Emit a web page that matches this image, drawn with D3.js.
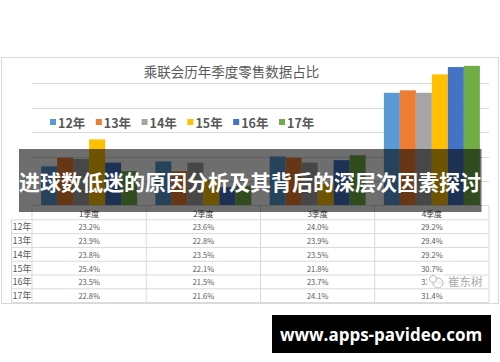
<!DOCTYPE html>
<html>
<head>
<meta charset="utf-8">
<script src="https://cdn.jsdelivr.net/npm/d3@7"></script>
<style>
  body { margin: 0; background: #fff; }
  svg { display: block; font-family: "Noto Sans CJK SC", "Noto Sans", sans-serif; }
</style>
</head>
<body>
<svg id="chart" width="500" height="362"></svg>
<script>
// quarters and years
const quarters = ['1季度', '2季度', '3季度', '4季度'];
const years = ['12年', '13年', '14年', '15年', '16年', '17年'];

// share of yearly retail per quarter (%)
const y12 = [23.2, 23.6, 24.0, 29.2];
const y13 = [23.9, 22.8, 23.9, 29.4];
const y14 = [23.8, 23.5, 23.5, 29.2];
const y15 = [25.4, 22.1, 21.8, 30.7];
const y16 = [23.5, 21.5, 23.7, 31.3];
const y17 = [22.8, 21.6, 24.1, 31.4];
const series = [y12, y13, y14, y15, y16, y17];

const colors = ['#5B9BD5', '#ED7D31', '#A5A5A5', '#FFC000', '#4472C4', '#70AD47'];

const svg = d3.select('#chart');

// chart frame
svg.append('rect')
    .attr('x', 1.5).attr('y', 57.5)
    .attr('width', 497).attr('height', 246)
    .attr('fill', '#fff')
    .attr('stroke', '#d9d9d9');

svg.append('text')
    .attr('x', 231.5).attr('y', 71)
    .attr('text-anchor', 'middle')
    .attr('dominant-baseline', 'central')
    .attr('font-size', 13.5)
    .attr('fill', '#595959')
    .text('乘联会历年季度零售数据占比');

const x0 = d3.scaleBand()
    .domain(quarters)
    .range([32, 489]);

const x1 = d3.scaleBand()
    .domain(years)
    .range([0, x0.bandwidth()])
    .paddingInner(0)
    .paddingOuter(0.57);

const y = d3.scaleLinear()
    .domain([20, 32])
    .range([205.5, 58.5]);

// gridlines
svg.append('g')
    .selectAll('line')
    .data(y.ticks(6).filter(t => t > 20 && t < 32))
    .join('line')
    .attr('x1', 32).attr('x2', 489)
    .attr('y1', d => Math.round(y(d)) + 0.5)
    .attr('y2', d => Math.round(y(d)) + 0.5)
    .attr('stroke', '#d9d9d9');

// bars
const rows = [];
series.forEach((vals, i) => {
    vals.forEach((v, j) => rows.push({ year: years[i], q: quarters[j], v: v, c: colors[i] }));
});

svg.append('g')
    .selectAll('rect')
    .data(rows)
    .join('rect')
    .attr('x', d => x0(d.q) + x1(d.year))
    .attr('width', x1.bandwidth())
    .attr('y', d => y(d.v))
    .attr('height', d => y(20) - y(d.v))
    .attr('fill', d => d.c);

// legend
const legend = svg.append('g')
    .selectAll('g')
    .data(years)
    .join('g')
    .attr('transform', (d, i) => `translate(${50 + i * 45.8},122)`);

legend.append('rect')
    .attr('x', 0).attr('y', -3)
    .attr('width', 6).attr('height', 6)
    .attr('fill', (d, i) => colors[i]);

legend.append('text')
    .attr('x', 8).attr('y', 0)
    .attr('dominant-baseline', 'central')
    .attr('font-size', 12.5)
    .attr('font-weight', 'bold')
    .attr('fill', '#595959')
    .text(d => d);

// data table
const tTop = 205.5;
const headH = 14.3;
const rowH = 13.8;
const table = svg.append('g');

table.append('line')
    .attr('x1', 32).attr('x2', 489)
    .attr('y1', tTop).attr('y2', tTop)
    .attr('stroke', '#d9d9d9');

for (let i = 0; i <= years.length; i++) {
    table.append('line')
        .attr('x1', 11).attr('x2', 489)
        .attr('y1', tTop + headH + i * rowH).attr('y2', tTop + headH + i * rowH)
        .attr('stroke', '#d9d9d9');
}

table.append('line')
    .attr('x1', 11.5).attr('x2', 11.5)
    .attr('y1', tTop + headH).attr('y2', tTop + headH + 6 * rowH)
    .attr('stroke', '#d9d9d9');

quarters.concat(['end']).forEach(q => {
    const xx = q === 'end' ? 489 : x0(q);
    table.append('line')
        .attr('x1', xx).attr('x2', xx)
        .attr('y1', tTop).attr('y2', tTop + headH + 6 * rowH)
        .attr('stroke', '#d9d9d9');
});

table.selectAll('text.head')
    .data(quarters)
    .join('text')
    .attr('class', 'head')
    .attr('x', d => x0(d) + x0.bandwidth() / 2)
    .attr('y', tTop + headH / 2 + 1)
    .attr('text-anchor', 'middle')
    .attr('dominant-baseline', 'central')
    .attr('font-size', 8)
    .attr('fill', '#404040')
    .text(d => d);

table.selectAll('text.rowlab')
    .data(years)
    .join('text')
    .attr('class', 'rowlab')
    .attr('x', 12.5)
    .attr('y', (d, i) => tTop + headH + i * rowH + rowH / 2)
    .attr('dominant-baseline', 'central')
    .attr('font-size', 9)
    .attr('fill', '#595959')
    .text(d => d);

table.selectAll('text.cell')
    .data(rows)
    .join('text')
    .attr('class', 'cell')
    .attr('x', d => x0(d.q) + x0.bandwidth() / 2)
    .attr('y', d => tTop + headH + years.indexOf(d.year) * rowH + rowH / 2)
    .attr('text-anchor', 'middle')
    .attr('dominant-baseline', 'central')
    .attr('font-size', 7.5)
    .attr('fill', '#595959')
    .text(d => d.v.toFixed(1) + '%');

// faint source watermark (covers part of a cell)
svg.append('rect')
    .attr('x', 427).attr('y', 275)
    .attr('width', 18).attr('height', 13)
    .attr('fill', 'rgba(255,255,255,0.85)');
const wm = svg.append('g').attr('fill', 'none').attr('stroke', '#bbb');
wm.append('circle').attr('cx', 438).attr('cy', 283).attr('r', 5);
wm.append('circle').attr('cx', 433).attr('cy', 279).attr('r', 3.5).attr('fill', '#fff');
svg.append('text')
    .attr('x', 448).attr('y', 281)
    .attr('dominant-baseline', 'central')
    .attr('font-size', 11.5)
    .attr('fill', '#aaa')
    .text('崔东树');

// title banner overlay
svg.append('rect')
    .attr('x', 19).attr('y', 149)
    .attr('width', 462.5).attr('height', 63)
    .attr('fill', 'rgba(0,0,0,0.57)');

svg.append('text')
    .attr('x', 250).attr('y', 181)
    .attr('text-anchor', 'middle')
    .attr('dominant-baseline', 'central')
    .attr('font-size', 21)
    .attr('font-weight', 'bold')
    .attr('fill', '#fff')
    .text('进球数低迷的原因分析及其背后的深层次因素探讨');

// site label
svg.append('rect')
    .attr('x', 272).attr('y', 315)
    .attr('width', 219).attr('height', 38)
    .attr('fill', '#000');

svg.append('text')
    .attr('x', 381).attr('y', 334)
    .attr('text-anchor', 'middle')
    .attr('dominant-baseline', 'central')
    .attr('font-family', '"Open Sans", sans-serif')
    .attr('font-size', 17)
    .attr('font-weight', 'bold')
    .attr('fill', '#fff')
    .text('www.apps-pavideo.com');
</script>
</body>
</html>
